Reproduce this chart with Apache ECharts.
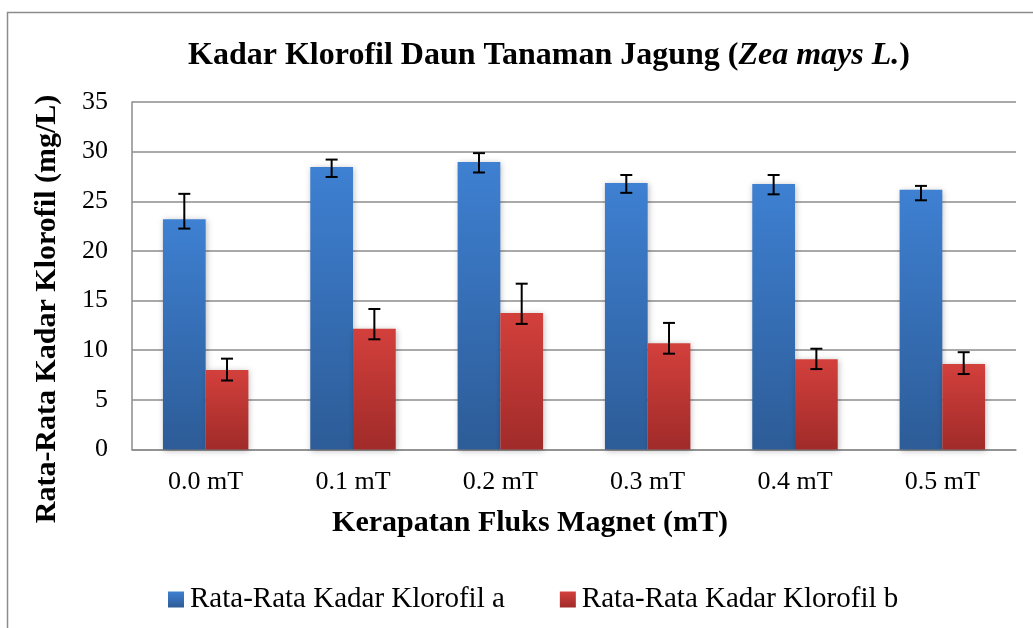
<!DOCTYPE html>
<html>
<head>
<meta charset="utf-8">
<script src="https://cdn.jsdelivr.net/npm/echarts@6/dist/echarts.min.js"></script>
<style>html,body{margin:0;padding:0;background:#fff}#c{width:1033px;height:628px}</style>
</head>
<body>
<div id="c"></div>
<script>
var categories = ['0.0 mT', '0.1 mT', '0.2 mT', '0.3 mT', '0.4 mT', '0.5 mT'];
var seriesNames = ['Rata-Rata Kadar Klorofil a', 'Rata-Rata Kadar Klorofil b'];
var klorofilA = [23.2, 28.45, 28.95, 26.85, 26.75, 26.15];
var klorofilB = [8.0, 12.15, 13.75, 10.7, 9.1, 8.6];
var errALow = [22.25, 27.45, 27.9, 25.85, 25.7, 25.1];
var errAHigh = [25.75, 29.2, 29.85, 27.65, 27.65, 26.55];
var errBLow = [6.95, 11.1, 12.65, 9.65, 8.1, 7.6];
var errBHigh = [9.15, 14.15, 16.7, 12.75, 10.15, 9.8];
var yTicks = [0, 5, 10, 15, 20, 25, 30, 35];

var FONT = '"Liberation Serif", "Times New Roman", serif';
var chart = echarts.init(document.getElementById('c'), null, {renderer: 'canvas'});

function grad(top, bottom) {
  return new echarts.graphic.LinearGradient(0, 0, 0, 1, [
    {offset: 0, color: top}, {offset: 1, color: bottom}
  ]);
}

function errData(low, high) {
  return categories.map(function (c, i) { return [i, low[i], high[i]]; });
}

function errSeries(idx, low, high) {
  return {
    type: 'custom',
    name: 'err' + idx,
    z: 10,
    renderItem: function (params, api) {
      var x = api.value(0);
      var lo = api.coord([x, api.value(1)]);
      var hi = api.coord([x, api.value(2)]);
      var bw = api.size([1, 0])[0];
      var barW = bw * 0.58 / 2;
      var cx = lo[0] + (idx === 0 ? -barW / 2 : barW / 2);
      var cap = 6;
      var st = {stroke: '#000', lineWidth: 2};
      return {
        type: 'group',
        children: [
          {type: 'line', shape: {x1: cx, y1: lo[1], x2: cx, y2: hi[1]}, style: st},
          {type: 'line', shape: {x1: cx - cap, y1: lo[1], x2: cx + cap, y2: lo[1]}, style: st},
          {type: 'line', shape: {x1: cx - cap, y1: hi[1], x2: cx + cap, y2: hi[1]}, style: st}
        ]
      };
    },
    encode: {x: 0, y: [1, 2]},
    data: errData(low, high),
    silent: true
  };
}

var option = {
  animation: false,
  backgroundColor: '#fff',
  title: {
    text: '{b|Kadar Klorofil Daun Tanaman Jagung (}{i|Zea mays L.}{b|)}',
    left: 544,
    textAlign: 'center',
    top: 35,
    textStyle: {
      rich: {
        b: {fontFamily: FONT, fontWeight: 'bold', fontSize: 32, color: '#000'},
        i: {fontFamily: FONT, fontWeight: 'bold', fontStyle: 'italic', fontSize: 32, color: '#000'}
      }
    }
  },
  legend: {
    data: seriesNames,
    left: 163,
    top: 580,
    itemWidth: 16,
    itemHeight: 16,
    itemGap: 55,
    icon: 'rect',
    textStyle: {fontFamily: FONT, fontSize: 29, color: '#000', padding: [0, 0, 0, 1]}
  },
  grid: {left: 132, right: 17, top: 102, bottom: 178.5, containLabel: false},
  xAxis: {
    type: 'category',
    data: categories,
    axisLine: {lineStyle: {color: '#8c8c8c', width: 1.5}},
    axisTick: {show: false},
    axisLabel: {fontFamily: FONT, fontSize: 26, color: '#000', margin: 20}
  },
  yAxis: {
    type: 'value',
    min: 0, max: 35, interval: 5,
    axisLine: {show: true, lineStyle: {color: '#8c8c8c', width: 1.5}},
    axisTick: {show: false},
    splitLine: {lineStyle: {color: '#8c8c8c', width: 1.5}},
    axisLabel: {fontFamily: FONT, fontSize: 26, color: '#000', margin: 24,
      formatter: function (v) { return yTicks.indexOf(v) >= 0 ? String(v) : ''; }}
  },
  graphic: [
    {type: 'rect', shape: {x: 7.5, y: 12.5, width: 1040, height: 640}, style: {fill: 'none', stroke: '#8c8c8c', lineWidth: 1.5}, z: -1},
    {type: 'text', x: 530, y: 523, style: {text: 'Kerapatan Fluks Magnet (mT)', fontFamily: FONT, fontWeight: 'bold', fontSize: 30, fill: '#000', align: 'center', verticalAlign: 'middle'}},
    {type: 'text', x: 47, y: 309, rotation: Math.PI / 2, style: {text: 'Rata-Rata Kadar Klorofil (mg/L)', fontFamily: FONT, fontWeight: 'bold', fontSize: 30, fill: '#000', align: 'center', verticalAlign: 'middle'}}
  ],
  series: [
    {
      name: seriesNames[0], type: 'bar', data: klorofilA, barGap: '0%', barCategoryGap: '42%',
      itemStyle: {color: grad('#3e80d2', '#2d5c97'), shadowColor: 'rgba(0,0,0,0.25)', shadowBlur: 6, shadowOffsetX: 1, shadowOffsetY: 1}
    },
    {
      name: seriesNames[1], type: 'bar', data: klorofilB, barGap: '0%', barCategoryGap: '42%',
      itemStyle: {color: grad('#d3403c', '#a02b29'), shadowColor: 'rgba(0,0,0,0.25)', shadowBlur: 6, shadowOffsetX: 1, shadowOffsetY: 1}
    },
    errSeries(0, errALow, errAHigh),
    errSeries(1, errBLow, errBHigh)
  ]
};
chart.setOption(option);
</script>
</body>
</html>
